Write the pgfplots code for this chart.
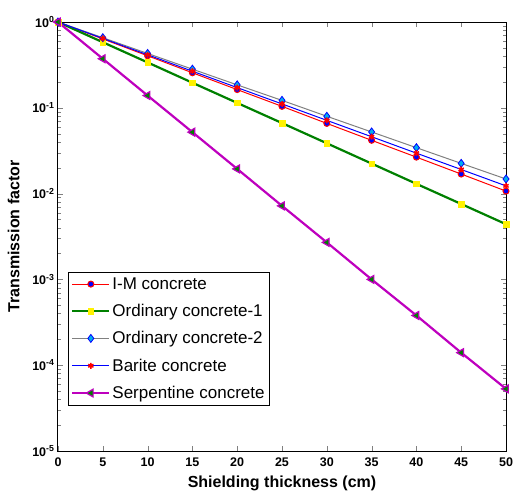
\documentclass[border=0pt]{standalone}
\usepackage{pgfplots}
\pgfplotsset{compat=1.18}
\usepackage{fontspec}
\setmainfont{Liberation Sans}
\definecolor{mgreen}{RGB}{0,128,0}
\definecolor{mmag}{RGB}{190,0,190}
\begin{document}
\begin{tikzpicture}
\begin{axis}[
  name=main,
  scale only axis,
  width=448pt, height=429pt,
  ymode=log,
  xmin=0, xmax=50, ymin=1e-5, ymax=1,
  xtick={0,5,...,50},
  ytick={1e-5,1e-4,1e-3,1e-2,1e-1,1},
  yticklabels={10\textsuperscript{-5},10\textsuperscript{-4},10\textsuperscript{-3},10\textsuperscript{-2},10\textsuperscript{-1},10\textsuperscript{0}},
  tick align=inside,
  tick pos=both,
  major tick length=5pt,
  minor tick length=3pt,
  /pgf/number format/assume math mode=true,
  tick label style={font=\fontsize{12.5}{13}\selectfont\bfseries},
  xticklabel style={yshift=-3pt},
  xlabel={\bfseries Shielding thickness (cm)},
  ylabel={\bfseries Transmission factor},
  label style={font=\fontsize{16}{18}\selectfont},
  xlabel style={yshift=-3pt},
  ylabel style={yshift=6pt},
  axis line style={line width=1pt},
  legend style={at={(0.022,0.417)}, anchor=north west, draw=black, line width=0.8pt,
    font=\fontsize{17}{19}\selectfont, row sep=9.5pt, inner sep=3pt},
  legend image code/.code={\draw[mark repeat=2,mark phase=2] plot coordinates {(0cm,0cm) (0.65cm,0cm) (1.3cm,0cm)};},
  legend cell align=left,
]
\addplot[red, line width=1pt, mark=*, mark size=3pt, mark options={fill=blue, draw=red, line width=1pt}] coordinates {
(0,1) (5,0.635) (10,0.404) (15,0.256) (20,0.163) (25,0.104) (30,0.0658) (35,0.0418) (40,0.0266) (45,0.0169) (50,0.0107)};
\addlegendentry{I-M concrete}
\addplot[mgreen, line width=2.2pt, mark=square*, mark size=2.8pt, mark options={fill=yellow, draw=yellow, line width=0.5pt}] coordinates {
(0,1) (5,0.581) (10,0.338) (15,0.196) (20,0.114) (25,0.0664) (30,0.0386) (35,0.0224) (40,0.0130) (45,0.00757) (50,0.0044)};
\addlegendentry{Ordinary concrete-1}
\addplot[gray, line width=1pt, mark=diamond*, mark size=4pt, mark options={fill=cyan, draw=blue, line width=0.8pt}] coordinates {
(0,1) (5,0.656) (10,0.430) (15,0.282) (20,0.185) (25,0.122) (30,0.0797) (35,0.0523) (40,0.0343) (45,0.0225) (50,0.0148)};
\addlegendentry{Ordinary concrete-2}
\addplot[blue, line width=1pt, mark=asterisk, mark size=3pt, mark options={draw=red, line width=1.5pt}] coordinates {
(0,1) (5,0.644) (10,0.415) (15,0.267) (20,0.172) (25,0.111) (30,0.0714) (35,0.046) (40,0.0296) (45,0.0191) (50,0.0123)};
\addlegendentry{Barite concrete}
\addplot[mmag, line width=2.2pt, mark=triangle*, mark size=4.5pt, mark options={rotate=90, fill=mgreen, draw=mmag, line width=1.2pt}] coordinates {
(0,1) (5,0.373) (10,0.139) (15,0.052) (20,0.0194) (25,0.0072) (30,0.0027) (35,0.001) (40,0.00038) (45,0.00014) (50,0.000053)};
\addlegendentry{Serpentine concrete}
\end{axis}
\pgfresetboundingbox
\path ([xshift=-58pt,yshift=-47pt]main.south west) rectangle ([xshift=8pt,yshift=22pt]main.north east);
\end{tikzpicture}
\end{document}
